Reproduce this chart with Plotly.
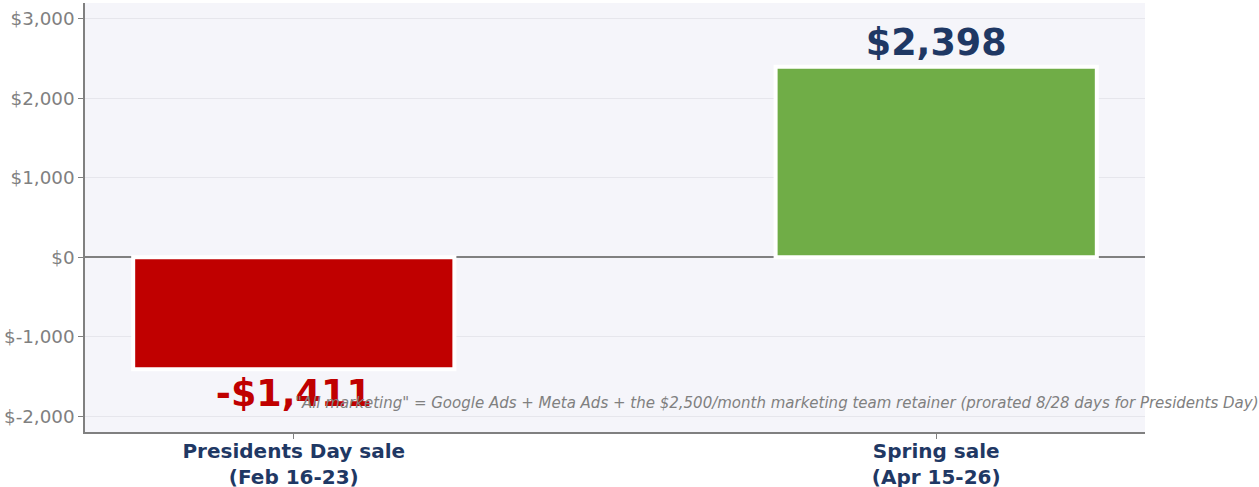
import plotly.graph_objects as go

categories = ["Presidents Day sale<br>(Feb 16-23)", "Spring sale<br>(Apr 15-26)"]
values = [-1411, 2398]
labels = ["-$1,411", "$2,398"]
bar_colors = ["#C00000", "#70AD47"]
label_colors = ["#C00000", "#1F3864"]
ytick_vals = [-2000, -1000, 0, 1000, 2000, 3000]
ytick_text = ["$-2,000", "$-1,000", "$0", "$1,000", "$2,000", "$3,000"]
note = '"All marketing" = Google Ads + Meta Ads + the $2,500/month marketing team retainer (prorated 8/28 days for Presidents Day)'

FONT = "DejaVu Sans"

fig = go.Figure()
fig.add_trace(go.Bar(
    x=categories, y=values, text=labels, textposition="outside",
    textfont=dict(family=FONT, size=36.5, color=label_colors, weight="bold"),
    marker=dict(color=bar_colors, line=dict(color="white", width=4)),
    width=0.5, cliponaxis=False,
))
fig.update_layout(
    width=1259, height=487,
    margin=dict(l=85, r=114, t=3, b=55, autoexpand=False),
    paper_bgcolor="white", plot_bgcolor="#F5F5FA",
    showlegend=False,
    font=dict(family=FONT),
)
fig.update_xaxes(
    range=[-0.325, 1.325], automargin=False,
    showline=True, linecolor="#808080", linewidth=1.5,
    ticks="outside", tickcolor="#808080", ticklen=5, ticklabelstandoff=-5,
    tickfont=dict(family=FONT, size=20, color="#1F3864", weight="bold"),
)
fig.update_yaxes(
    range=[-2200, 3200], tickvals=ytick_vals, ticktext=ytick_text, automargin=False,
    showline=True, linecolor="#808080", linewidth=1.5,
    ticks="outside", tickcolor="#808080", ticklen=5,
    gridcolor="#E6E6EC", zeroline=True, zerolinecolor="#808080", zerolinewidth=2,
    tickfont=dict(family=FONT, size=18.3, color="#808080"),
)
fig.add_annotation(
    text=note, xref="paper", yref="paper", x=1.109, y=0.068,
    xanchor="right", yanchor="middle", showarrow=False,
    font=dict(family=FONT, size=15, color="#808080", style="italic"),
)
fig.write_html("out.html")
